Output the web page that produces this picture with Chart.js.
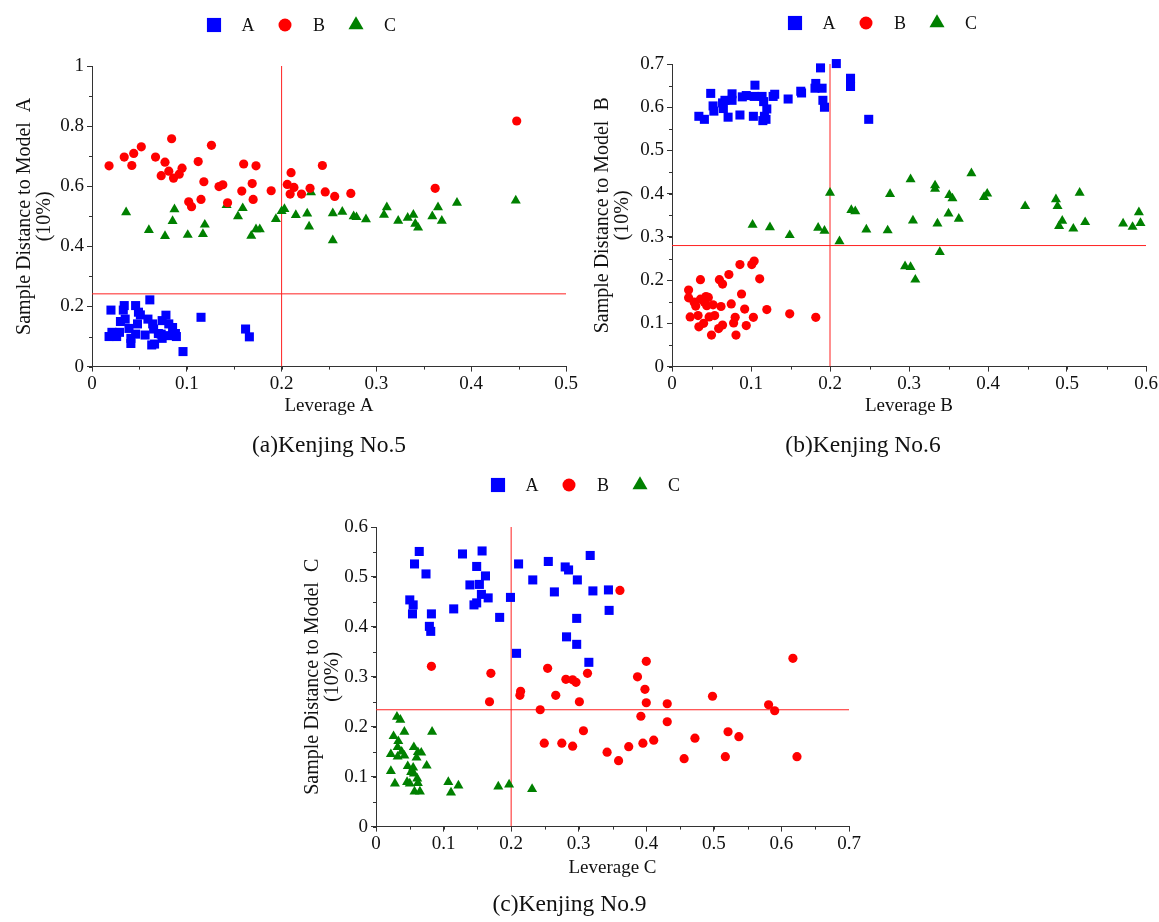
<!DOCTYPE html>
<html>
<head>
<meta charset="utf-8">
<script src="https://cdn.jsdelivr.net/npm/chart.js@4/dist/chart.umd.min.js"></script>
<style>
  body { margin: 0; background: #fff; overflow: hidden; }
  canvas { position: absolute; }
</style>
</head>
<body>
<canvas id="chartA" width="580" height="470" style="left:0;top:0"></canvas>
<canvas id="chartB" width="579" height="470" style="left:580px;top:0"></canvas>
<canvas id="chartC" width="590" height="462" style="left:290px;top:460px"></canvas>
<script>
// Kenjing No.5 : [leverage, distance]
const k5A = [[0.018,0.100],[0.020,0.188],[0.021,0.114],[0.026,0.100],[0.029,0.114],[0.030,0.150],[0.033,0.188],[0.034,0.203],[0.035,0.158],[0.039,0.127],[0.041,0.094],[0.041,0.077],[0.046,0.203],[0.046,0.108],[0.048,0.142],[0.049,0.181],[0.051,0.172],[0.056,0.105],[0.059,0.158],[0.061,0.222],[0.063,0.072],[0.064,0.142],[0.065,0.125],[0.066,0.075],[0.070,0.110],[0.073,0.108],[0.074,0.153],[0.074,0.094],[0.078,0.171],[0.080,0.103],[0.081,0.142],[0.085,0.130],[0.088,0.110],[0.089,0.100],[0.096,0.050],[0.115,0.164],[0.162,0.125],[0.166,0.099]];
const k5B = [[0.018,0.668],[0.034,0.697],[0.044,0.709],[0.042,0.669],[0.052,0.731],[0.067,0.697],[0.073,0.635],[0.077,0.680],[0.081,0.650],[0.084,0.758],[0.086,0.627],[0.092,0.640],[0.095,0.660],[0.102,0.548],[0.105,0.532],[0.112,0.682],[0.115,0.556],[0.118,0.615],[0.126,0.736],[0.134,0.599],[0.138,0.605],[0.143,0.545],[0.158,0.584],[0.160,0.674],[0.169,0.609],[0.170,0.556],[0.173,0.668],[0.189,0.585],[0.206,0.606],[0.209,0.574],[0.210,0.645],[0.213,0.596],[0.221,0.574],[0.230,0.593],[0.243,0.669],[0.246,0.581],[0.256,0.566],[0.273,0.576],[0.362,0.593],[0.448,0.817]];
const k5C = [[0.036,0.513],[0.060,0.454],[0.077,0.434],[0.085,0.484],[0.087,0.523],[0.101,0.438],[0.117,0.441],[0.119,0.472],[0.142,0.537],[0.154,0.500],[0.159,0.527],[0.168,0.435],[0.173,0.457],[0.177,0.457],[0.194,0.491],[0.200,0.517],[0.203,0.524],[0.215,0.504],[0.227,0.509],[0.229,0.466],[0.231,0.580],[0.254,0.510],[0.254,0.420],[0.264,0.515],[0.276,0.500],[0.279,0.497],[0.289,0.490],[0.308,0.505],[0.311,0.530],[0.323,0.485],[0.333,0.495],[0.339,0.505],[0.341,0.475],[0.344,0.462],[0.359,0.500],[0.365,0.530],[0.369,0.485],[0.385,0.545],[0.447,0.552]];

// Kenjing No.6
const k6A = [[0.034,0.579],[0.041,0.572],[0.049,0.632],[0.052,0.603],[0.053,0.591],[0.064,0.610],[0.065,0.597],[0.067,0.616],[0.071,0.577],[0.076,0.631],[0.076,0.616],[0.086,0.582],[0.089,0.624],[0.094,0.627],[0.103,0.579],[0.104,0.625],[0.105,0.651],[0.114,0.625],[0.115,0.569],[0.116,0.613],[0.117,0.579],[0.119,0.572],[0.120,0.596],[0.128,0.625],[0.130,0.630],[0.147,0.619],[0.163,0.637],[0.164,0.633],[0.181,0.644],[0.182,0.655],[0.188,0.691],[0.190,0.644],[0.191,0.616],[0.193,0.600],[0.208,0.701],[0.226,0.667],[0.226,0.648],[0.249,0.572]];
const k6B = [[0.021,0.177],[0.021,0.159],[0.023,0.115],[0.028,0.149],[0.030,0.140],[0.033,0.118],[0.034,0.092],[0.036,0.201],[0.036,0.156],[0.040,0.100],[0.041,0.149],[0.043,0.162],[0.044,0.141],[0.046,0.160],[0.047,0.115],[0.050,0.073],[0.052,0.143],[0.054,0.118],[0.059,0.088],[0.060,0.201],[0.062,0.139],[0.064,0.191],[0.064,0.096],[0.072,0.213],[0.075,0.145],[0.078,0.101],[0.080,0.114],[0.081,0.073],[0.086,0.236],[0.088,0.168],[0.092,0.133],[0.094,0.095],[0.101,0.236],[0.104,0.244],[0.103,0.114],[0.111,0.203],[0.120,0.132],[0.149,0.122],[0.182,0.114]];
const k6C = [[0.102,0.328],[0.124,0.322],[0.149,0.304],[0.185,0.321],[0.193,0.314],[0.200,0.402],[0.212,0.290],[0.227,0.362],[0.232,0.359],[0.246,0.317],[0.273,0.315],[0.276,0.399],[0.302,0.433],[0.305,0.338],[0.295,0.232],[0.302,0.230],[0.308,0.201],[0.333,0.419],[0.333,0.411],[0.336,0.331],[0.339,0.265],[0.350,0.354],[0.351,0.397],[0.355,0.389],[0.363,0.342],[0.379,0.447],[0.395,0.392],[0.399,0.400],[0.447,0.371],[0.486,0.387],[0.488,0.371],[0.490,0.325],[0.494,0.337],[0.508,0.319],[0.516,0.402],[0.523,0.334],[0.571,0.331],[0.583,0.323],[0.591,0.357],[0.593,0.332]];

// Kenjing No.9
const k9A = [[0.050,0.454],[0.055,0.444],[0.054,0.426],[0.057,0.526],[0.064,0.551],[0.074,0.506],[0.079,0.401],[0.081,0.391],[0.082,0.426],[0.115,0.436],[0.128,0.546],[0.139,0.484],[0.145,0.444],[0.149,0.448],[0.149,0.521],[0.153,0.485],[0.156,0.465],[0.157,0.552],[0.162,0.502],[0.166,0.458],[0.183,0.419],[0.199,0.459],[0.208,0.347],[0.211,0.526],[0.232,0.494],[0.255,0.531],[0.264,0.470],[0.280,0.520],[0.285,0.514],[0.282,0.380],[0.298,0.494],[0.297,0.417],[0.297,0.365],[0.317,0.543],[0.321,0.472],[0.344,0.474],[0.345,0.433],[0.315,0.329]];
const k9B = [[0.082,0.321],[0.170,0.307],[0.168,0.250],[0.214,0.271],[0.213,0.263],[0.243,0.234],[0.254,0.317],[0.249,0.167],[0.266,0.263],[0.275,0.167],[0.281,0.295],[0.291,0.161],[0.291,0.294],[0.296,0.289],[0.301,0.250],[0.307,0.192],[0.313,0.307],[0.342,0.149],[0.359,0.132],[0.361,0.473],[0.374,0.160],[0.387,0.300],[0.392,0.221],[0.395,0.167],[0.398,0.275],[0.400,0.331],[0.400,0.248],[0.411,0.173],[0.431,0.246],[0.431,0.210],[0.456,0.136],[0.472,0.177],[0.498,0.261],[0.517,0.140],[0.521,0.190],[0.537,0.180],[0.581,0.244],[0.590,0.232],[0.617,0.337],[0.623,0.140]];
const k9C = [[0.031,0.220],[0.036,0.214],[0.026,0.181],[0.042,0.190],[0.033,0.171],[0.022,0.145],[0.032,0.159],[0.032,0.140],[0.038,0.150],[0.042,0.142],[0.056,0.159],[0.060,0.138],[0.067,0.148],[0.062,0.149],[0.083,0.190],[0.075,0.122],[0.047,0.121],[0.055,0.118],[0.022,0.111],[0.052,0.109],[0.056,0.106],[0.061,0.096],[0.046,0.089],[0.050,0.086],[0.028,0.086],[0.062,0.087],[0.057,0.070],[0.065,0.070],[0.107,0.089],[0.111,0.068],[0.122,0.082],[0.181,0.080],[0.197,0.084],[0.231,0.075]];

// critical lines [leverage, distance]
const k5Limits = [0.2, 0.242];
const k6Limits = [0.2, 0.280];
const k9Limits = [0.2, 0.234];

const groupNames = ["A", "B", "C"];
const FONT = "'Liberation Serif', 'Times New Roman', serif";

function toXY(arr) { return arr.map(p => ({ x: p[0], y: p[1] })); }

// legend drawn with the library's point helper
const markLegend = {
  id: "markLegend",
  afterDraw(chart, args, opts) {
    const ctx = chart.ctx;
    ctx.save();
    chart.data.datasets.slice(0, 3).forEach((ds, i) => {
      const cx = opts.x + i * 71;
      ctx.fillStyle = ds.backgroundColor;
      ctx.strokeStyle = ds.backgroundColor;
      Chart.helpers.drawPoint(ctx, { pointStyle: ds.pointStyle, radius: [10, 6.5, 8.7][i], borderWidth: 0, rotation: 0 }, cx, opts.y);
      ctx.fillStyle = "#111";
      ctx.font = "18px " + FONT;
      ctx.textAlign = "center";
      ctx.textBaseline = "middle";
      ctx.fillText(ds.label, cx + 34, opts.y + 1);
    });
    ctx.restore();
  }
};

// small unlabeled ticks between the labeled ones
const minorTicks = {
  id: "minorTicks",
  afterDraw(chart, args, opts) {
    const { ctx, scales: { x, y } } = chart;
    ctx.save();
    ctx.strokeStyle = "#333";
    ctx.lineWidth = 1;
    ctx.beginPath();
    for (let i = 0; i * opts.xStep <= x.max + 1e-9; i++) {
      const px = Math.round(x.getPixelForValue(i * opts.xStep)) + 0.5;
      ctx.moveTo(px, x.top);
      ctx.lineTo(px, x.top + 3);
    }
    for (let i = 0; i * opts.yStep <= y.max + 1e-9; i++) {
      const py = Math.round(y.getPixelForValue(i * opts.yStep)) + 0.5;
      ctx.moveTo(y.right, py);
      ctx.lineTo(y.right - 3, py);
    }
    ctx.stroke();
    ctx.restore();
  }
};

const fmt = v => parseFloat(v.toFixed(2));

function makeChart(id, cfg) {
  const [lev, dist] = cfg.limits;
  const datasets = [
    { label: groupNames[0], data: toXY(cfg.A), pointStyle: "rect", pointRadius: 6.4, backgroundColor: "#0000ff", borderColor: "#0000ff", borderWidth: 0, clip: false },
    { label: groupNames[1], data: toXY(cfg.B), pointStyle: "circle", pointRadius: 4.6, backgroundColor: "#ff0000", borderColor: "#ff0000", borderWidth: 0, clip: false },
    { label: groupNames[2], data: toXY(cfg.C), pointStyle: "triangle", pointRadius: 5.8, backgroundColor: "#008000", borderColor: "#008000", borderWidth: 0, clip: false },
    { label: "lev", data: [{ x: lev, y: 0 }, { x: lev, y: cfg.yMax }], showLine: true, pointRadius: 0, borderColor: "#ff2020", borderWidth: 1 },
    { label: "dist", data: [{ x: 0, y: dist }, { x: cfg.xMax, y: dist }], showLine: true, pointRadius: 0, borderColor: "#ff2020", borderWidth: 1 }
  ];
  const tickFont = { family: FONT, size: 19 };
  return new Chart(document.getElementById(id), {
    type: "scatter",
    data: { datasets },
    plugins: [markLegend, minorTicks],
    options: {
      responsive: false,
      animation: false,
      layout: { padding: cfg.padding },
      scales: {
        x: {
          type: "linear", min: 0, max: cfg.xMax,
          afterFit: s => { s.height = 54; },
          ticks: { stepSize: 0.1, color: "#111", font: tickFont, padding: 1, maxRotation: 0, callback: fmt },
          grid: { drawOnChartArea: false, tickLength: 5, color: "#333" },
          border: { color: "#333", width: 1 },
          title: { display: true, text: cfg.xTitle, color: "#111", font: { family: FONT, size: 19 }, padding: { top: 0, bottom: cfg.xTitlePad } }
        },
        y: {
          type: "linear", min: 0, max: cfg.yMax,
          afterFit: s => { s.width = cfg.yWidth; },
          ticks: { stepSize: cfg.yStep, color: "#111", font: tickFont, padding: 3, callback: fmt },
          grid: { drawOnChartArea: false, tickLength: 5, color: "#333" },
          border: { color: "#333", width: 1 },
          title: { display: true, text: [cfg.yTitle, "(10%)"], color: "#111", font: { family: FONT, size: 20, lineHeight: 1.0 }, padding: { top: cfg.yTitlePad, bottom: 0 } }
        }
      },
      plugins: {
        legend: { display: false },
        tooltip: { enabled: false },
        title: { display: true, position: "bottom", fullSize: cfg.captionFull, text: cfg.caption, color: "#111", font: { family: FONT, size: 23.5, weight: "normal" }, padding: { top: cfg.captionPad, bottom: 0 } },
        markLegend: cfg.legend,
        minorTicks: { xStep: 0.05, yStep: cfg.yMinor }
      }
    }
  });
}

makeChart("chartA", {
  A: k5A, B: k5B, C: k5C, limits: k5Limits,
  xMax: 0.5, yMax: 1, yStep: 0.2, yMinor: 0.1,
  xTitle: "Leverage A", yTitle: "Sample Distance to Model  A", caption: "(a)Kenjing No.5", captionFull: false,
  padding: { left: 0, right: 14, top: 66, bottom: 9.6 },
  yWidth: 92, yTitlePad: 15, xTitlePad: 3.6, captionPad: 11.6,
  legend: { x: 214, y: 25 }
});

makeChart("chartB", {
  A: k6A, B: k6B, C: k6C, limits: k6Limits,
  xMax: 0.6, yMax: 0.7, yStep: 0.1, yMinor: 0.05,
  xTitle: "Leverage B", yTitle: "Sample Distance to Model  B", caption: "(b)Kenjing No.6", captionFull: true,
  padding: { left: 0, right: 13, top: 64, bottom: 9.6 },
  yWidth: 92, yTitlePad: 13, xTitlePad: 3, captionPad: 11.6,
  legend: { x: 215, y: 23 }
});

makeChart("chartC", {
  A: k9A, B: k9B, C: k9C, limits: k9Limits,
  xMax: 0.7, yMax: 0.6, yStep: 0.1, yMinor: 0.05,
  xTitle: "Leverage C", yTitle: "Sample Distance to Model  C", caption: "(c)Kenjing No.9", captionFull: true,
  padding: { left: 0, right: 31, top: 67, bottom: 2.6 },
  yWidth: 86, yTitlePad: 13, xTitlePad: 1.6, captionPad: 10.6,
  legend: { x: 208, y: 25 }
});
</script>
</body>
</html>
